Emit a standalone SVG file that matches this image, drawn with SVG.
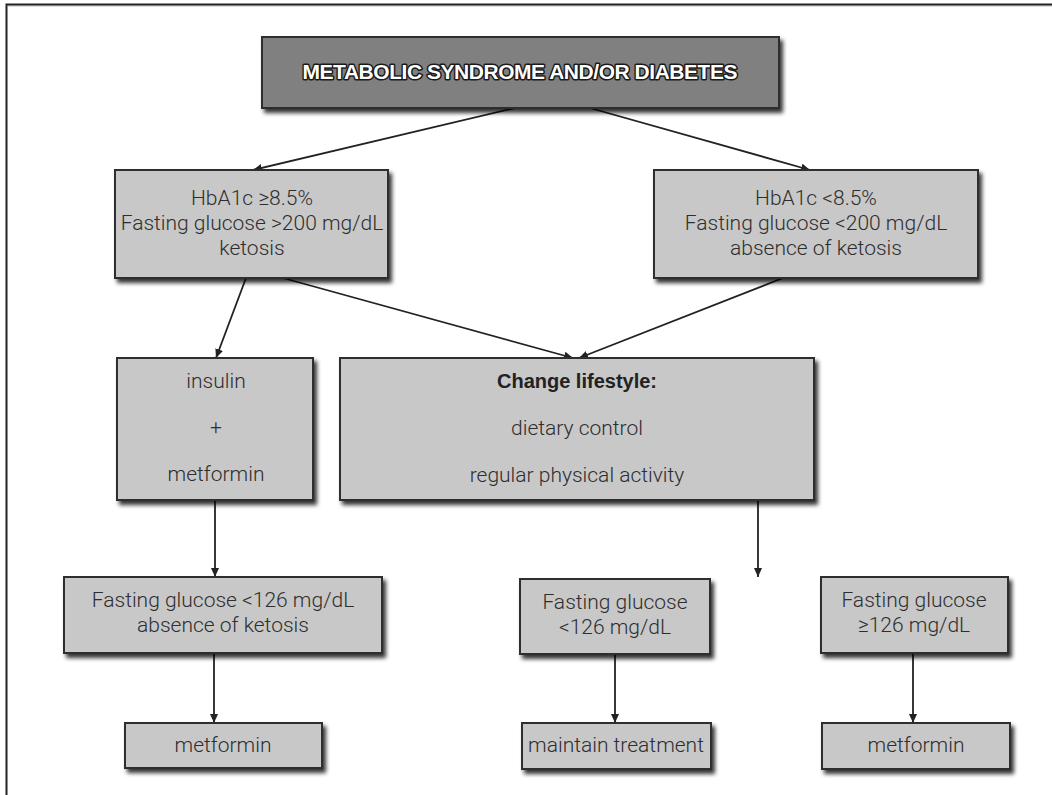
<svg xmlns="http://www.w3.org/2000/svg" width="1052" height="795" viewBox="0 0 1052 795">
  <style>
    .box { fill: #c8c8c8; stroke: #2e2e2e; stroke-width: 2; filter: url(#shadow); }
    .head { fill: #808080; stroke: #2e2e2e; stroke-width: 2; filter: url(#shadow); }
    .t { font-family: Roboto, "Liberation Sans", sans-serif; font-weight: 300; font-size: 21px; fill: #2e2e2e; text-anchor: middle; }
    .tb { font-family: "Liberation Sans", Arial, sans-serif; font-weight: bold; font-size: 20px; fill: #222; text-anchor: middle; }
    .title { font-family: "Liberation Sans", Arial, sans-serif; font-weight: bold; font-size: 21px; fill: #fff; stroke: #1a1a1a; stroke-width: 3; paint-order: stroke; stroke-linejoin: round; text-anchor: middle; }
    .link { fill: none; stroke: #222; stroke-width: 1.8; marker-end: url(#arrow); }
    .frame { fill: none; stroke: #222; stroke-width: 2; }
  </style>
  <defs>
    <filter id="shadow" x="-10%" y="-10%" width="130%" height="140%">
      <feDropShadow dx="3" dy="4" stdDeviation="2" flood-color="#000" flood-opacity="0.8"/>
    </filter>
    <marker id="arrow" markerUnits="userSpaceOnUse" markerWidth="9" markerHeight="8" refX="9" refY="4" orient="auto">
      <path d="M0,0 L9,4 L0,8 z" fill="#222"/>
    </marker>
  </defs>

  <rect width="1052" height="795" fill="#fff"/>

  <!-- page frame (top and left rules) -->
  <g id="frame">
    <path d="M8,6 H1052" stroke="#bbb" stroke-width="1" fill="none"/>
    <path d="M6.5,795 V4.5 H1052" class="frame"/>
  </g>

  <!-- connectors -->
  <g id="connectors">
    <line class="link" x1="515" y1="108" x2="253" y2="170"/>
    <line class="link" x1="590" y1="108" x2="810" y2="170"/>
    <line class="link" x1="246" y1="278" x2="216" y2="358"/>
    <line class="link" x1="283" y1="278" x2="573" y2="358"/>
    <line class="link" x1="783" y1="278" x2="579" y2="358"/>
    <line class="link" x1="215" y1="500" x2="215" y2="577"/>
    <line class="link" x1="758" y1="500" x2="758" y2="577"/>
    <line class="link" x1="214" y1="653" x2="214" y2="723"/>
    <line class="link" x1="615" y1="654" x2="615" y2="723"/>
    <line class="link" x1="913" y1="653" x2="913" y2="723"/>
  </g>

  <g id="node-title">
    <rect class="head" x="262" y="37" width="517" height="71"/>
    <text class="title" x="520" y="79" textLength="435" lengthAdjust="spacing">METABOLIC SYNDROME AND/OR DIABETES</text>
  </g>

  <g id="node-high">
    <rect class="box" x="115" y="170" width="273" height="108"/>
    <text class="t" x="252" y="205">HbA1c  ≥8.5%</text>
    <text class="t" x="252" y="230">Fasting glucose &gt;200 mg/dL</text>
    <text class="t" x="252" y="255">ketosis</text>
  </g>

  <g id="node-low">
    <rect class="box" x="654" y="170" width="324" height="108"/>
    <text class="t" x="816" y="205">HbA1c &lt;8.5%</text>
    <text class="t" x="816" y="230">Fasting glucose &lt;200 mg/dL</text>
    <text class="t" x="816" y="255">absence of ketosis</text>
  </g>

  <g id="node-insulin">
    <rect class="box" x="117" y="358" width="196" height="142"/>
    <text class="t" x="216" y="388">insulin</text>
    <text class="t" x="216" y="434">+</text>
    <text class="t" x="216" y="481">metformin</text>
  </g>

  <g id="node-lifestyle">
    <rect class="box" x="340" y="358" width="474" height="142"/>
    <text class="tb" x="577" y="388">Change lifestyle:</text>
    <text class="t" x="577" y="435">dietary control</text>
    <text class="t" x="577" y="482">regular physical activity</text>
  </g>

  <g id="node-target-ketosis">
    <rect class="box" x="64" y="577" width="318" height="76"/>
    <text class="t" x="223" y="607">Fasting glucose &lt;126 mg/dL</text>
    <text class="t" x="223" y="632">absence of ketosis</text>
  </g>

  <g id="node-target-low">
    <rect class="box" x="520" y="579" width="190" height="75"/>
    <text class="t" x="615" y="609">Fasting glucose</text>
    <text class="t" x="615" y="634">&lt;126 mg/dL</text>
  </g>

  <g id="node-target-high">
    <rect class="box" x="821" y="577" width="187" height="76"/>
    <text class="t" x="914" y="607">Fasting glucose</text>
    <text class="t" x="914" y="632">≥126 mg/dL</text>
  </g>

  <g id="node-metformin-left">
    <rect class="box" x="125" y="723" width="197" height="45"/>
    <text class="t" x="223" y="752">metformin</text>
  </g>

  <g id="node-maintain">
    <rect class="box" x="522" y="723" width="189" height="46"/>
    <text class="t" x="616" y="752">maintain treatment</text>
  </g>

  <g id="node-metformin-right">
    <rect class="box" x="822" y="723" width="188" height="46"/>
    <text class="t" x="916" y="752">metformin</text>
  </g>
</svg>
